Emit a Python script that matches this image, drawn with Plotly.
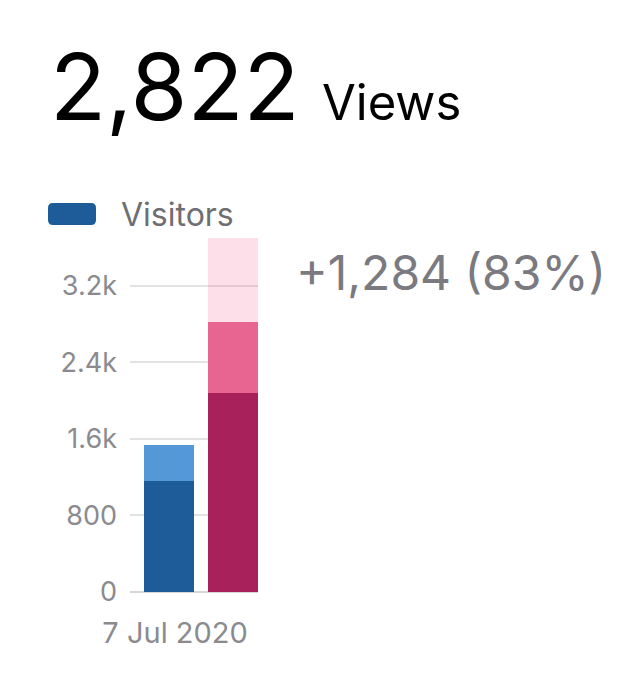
import plotly.graph_objects as go

# ---- data ----
date_label = ["7 Jul 2020"]
prev_visitors = [1160]
prev_views = [1538]
cur_visitors = [2085]
cur_views = [2822]
cur_projection = [3700]
y_ticks = [0, 800, 1600, 2400, 3200]
y_tick_labels = ["0", "800", "1.6k", "2.4k", "3.2k"]
headline_value = "2,822"
headline_unit = "Views"
change_text = "+1,284 (83%)"
legend_label = "Visitors"

W, H = 620, 700
L, R, T, B = 130, 258, 238, 592

def px(x):
    return (x - L) / (R - L)

def py(y):
    return (B - y) / (B - T)

FONT = "Inter, Roboto, sans-serif"
GRAY = "#8a8a8f"

fig = go.Figure()
# previous period (blue) at x=0, current (pink) at x=1
fig.add_trace(go.Bar(x=[0], y=prev_visitors, marker_color="#1d5c99", width=0.78))
fig.add_trace(go.Bar(x=[0], y=[prev_views[0] - prev_visitors[0]], marker_color="#5598d8", width=0.78))
fig.add_trace(go.Bar(x=[1], y=cur_visitors, marker_color="#a8215a", width=0.78))
fig.add_trace(go.Bar(x=[1], y=[cur_views[0] - cur_visitors[0]], marker_color="#e86592", width=0.78))
fig.add_trace(go.Bar(x=[1], y=[cur_projection[0] - cur_views[0]], marker_color="rgba(240,110,155,0.22)", width=0.78))
for tr in fig.data:
    tr.marker.line.width = 0
    tr.hoverinfo = "skip"

fig.update_layout(
    width=W, height=H,
    margin=dict(l=L, r=W - R, t=T, b=H - B),
    paper_bgcolor="white", plot_bgcolor="white",
    barmode="stack", bargap=0, showlegend=False,
    font=dict(family=FONT, color=GRAY),
)
fig.update_xaxes(
    range=[-0.61, 1.39], showgrid=False, zeroline=False,
    tickvals=[0.094], ticktext=date_label, ticks="",
    tickfont=dict(size=29, color=GRAY),
    ticklabelstandoff=21,
    showline=False,
)
fig.update_yaxes(
    range=[0, 3700], tickvals=y_ticks, ticktext=y_tick_labels,
    showgrid=True, gridcolor="#e2e2e4", gridwidth=1.5,
    zeroline=True, zerolinecolor="#d6d6d9", zerolinewidth=2,
    tickfont=dict(size=27, color=GRAY), ticks="",
    ticklabelstandoff=12,
)

# headline
fig.add_annotation(xref="paper", yref="paper", x=px(48), y=py(86),
                   xanchor="left", yanchor="middle", showarrow=False,
                   text=headline_value, font=dict(size=92, color="black", family=FONT))
fig.add_annotation(xref="paper", yref="paper", x=px(320), y=py(102),
                   xanchor="left", yanchor="middle", showarrow=False,
                   text=headline_unit, font=dict(size=49, color="black", family=FONT))
# legend swatch (rounded rect)
x0, x1, y0, y1, r = 48, 96, 203, 225, 5
rx = r / (R - L)
ry = r / (B - T)
X0, X1, Y0, Y1 = px(x0), px(x1), py(y1), py(y0)
path = (f"M {X0+rx},{Y0} L {X1-rx},{Y0} Q {X1},{Y0} {X1},{Y0+ry} "
        f"L {X1},{Y1-ry} Q {X1},{Y1} {X1-rx},{Y1} "
        f"L {X0+rx},{Y1} Q {X0},{Y1} {X0},{Y1-ry} "
        f"L {X0},{Y0+ry} Q {X0},{Y0} {X0+rx},{Y0} Z")
fig.add_shape(type="path", xref="paper", yref="paper", path=path,
              fillcolor="#1d5c99", line=dict(width=0))
fig.add_annotation(xref="paper", yref="paper", x=px(119), y=py(214),
                   xanchor="left", yanchor="middle", showarrow=False,
                   text=legend_label, font=dict(size=32, color="#6e6e73", family=FONT))
# change
fig.add_annotation(xref="paper", yref="paper", x=px(294), y=py(272),
                   xanchor="left", yanchor="middle", showarrow=False,
                   text=change_text, font=dict(size=48, color="#7a7a80", family=FONT))

fig.write_html("out.html")
